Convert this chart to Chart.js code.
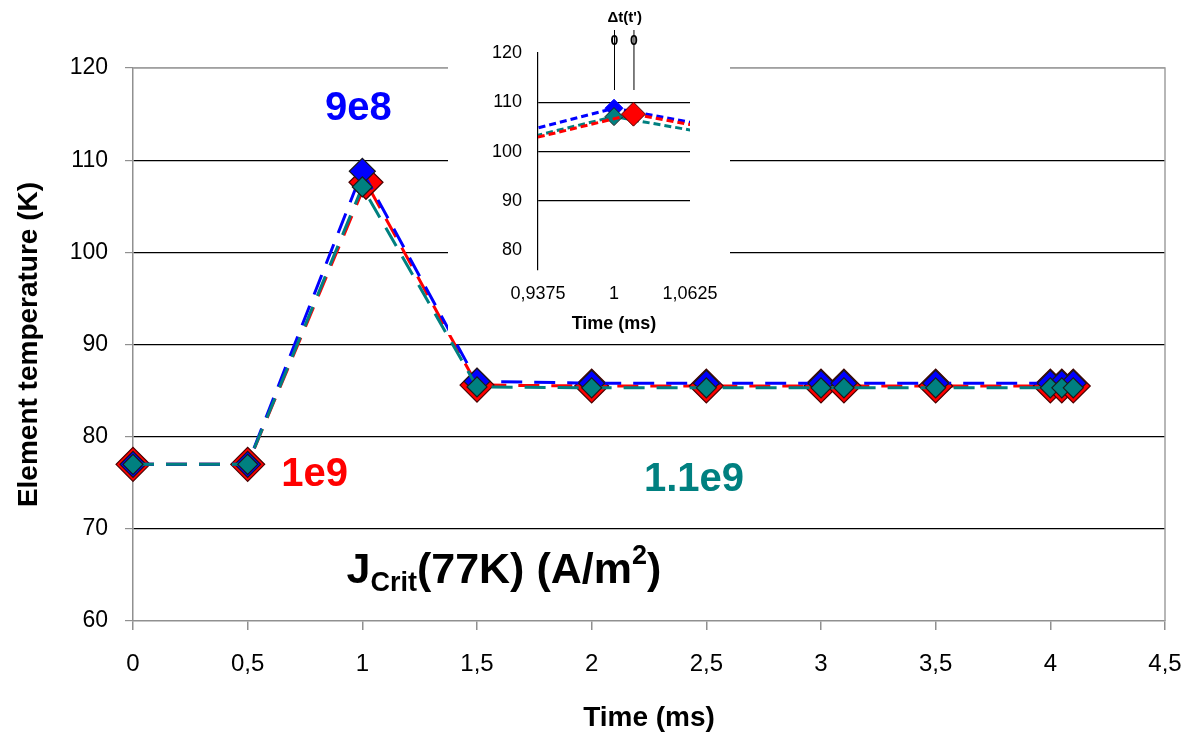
<!DOCTYPE html>
<html><head><meta charset="utf-8">
<script src="https://cdn.jsdelivr.net/npm/chart.js@4.4.1/dist/chart.umd.min.js"></script>
<style>
html,body{margin:0;padding:0;background:#fff;}
#wrap{position:relative;width:1197px;height:740px;overflow:hidden;}
#main{position:absolute;left:0;top:0;}
#inset{position:absolute;left:448px;top:0;background:#fff;}
</style></head><body>
<div id="wrap"><canvas id="main" width="1197" height="740"></canvas><canvas id="inset" width="282" height="335"></canvas></div>
<script>
// ---- data ----
const seriesNames = ['9e8', '1e9', '1.1e9'];
const timeBlue = [0, 0.5, 1, 1.5, 2, 2.5, 3, 3.1, 3.5, 4, 4.05, 4.1];
const timeRed  = [0, 0.5, 1.016, 1.5, 2, 2.5, 3, 3.1, 3.5, 4, 4.05, 4.1];
const timeTeal = [0, 0.5, 1, 1.5, 2, 2.5, 3, 3.1, 3.5, 4, 4.05, 4.1];
const tempBlue = [77, 77, 108.8, 86.0, 85.8, 85.8, 85.8, 85.8, 85.8, 85.8, 85.8, 85.8];
const tempRed  = [77, 77, 107.6, 85.6, 85.5, 85.5, 85.5, 85.5, 85.5, 85.5, 85.5, 85.5];
const tempTeal = [77, 77, 107.1, 85.4, 85.3, 85.3, 85.3, 85.3, 85.3, 85.3, 85.3, 85.3];
const xTickValues = [0, 0.5, 1, 1.5, 2, 2.5, 3, 3.5, 4, 4.5];
const xTickLabels = ['0', '0,5', '1', '1,5', '2', '2,5', '3', '3,5', '4', '4,5'];
const yTickValues = [60, 70, 80, 90, 100, 110, 120];
const insetXTickValues = [0.9375, 1, 1.0625];
const insetXTickLabels = ['0,9375', '1', '1,0625'];
const insetYTickValues = [80, 90, 100, 110, 120];
const insetGridValues = [90, 100, 110];

// ---- styles ----
const FONT = "'Liberation Sans', Arial, sans-serif";
const BLUE = '#0000ff', RED = '#ff0000', TEAL = '#008080';
const GRAY = '#909090';

function pts(times, temps) { return times.map((t, i) => ({x: t, y: temps[i]})); }

function mainDS(name, times, temps, color, order, radius, border) {
  return {
    label: name, data: pts(times, temps), order: order,
    showLine: true, borderColor: color, borderWidth: 3,
    borderDash: [21, 12], borderDashOffset: 0,
    pointStyle: 'rectRot', pointRadius: radius, pointBackgroundColor: color,
    pointBorderColor: border, pointBorderWidth: 1.2, clip: false, tension: 0
  };
}
function insetDS(name, times, temps, color, order, radius, dashOffset, border) {
  return {
    label: name, data: pts(times, temps), order: order,
    showLine: true, borderColor: color, borderWidth: 3,
    borderDash: [7, 4], borderDashOffset: dashOffset,
    pointStyle: 'rectRot', pointRadius: radius, pointBackgroundColor: color,
    pointBorderColor: border, pointBorderWidth: 1, tension: 0
  };
}

const labelFromList = (vals, labs) => (v) => { const i = vals.findIndex(a => Math.abs(a - v) < 1e-9); return i >= 0 ? labs[i] : ''; };

// annotation text (positions in data units)
const notes = [
  {text: seriesNames[0], color: BLUE, x: 0.983, y: 115.6},
  {text: seriesNames[1], color: RED,  x: 0.792, y: 75.8},
  {text: seriesNames[2], color: TEAL, x: 2.446, y: 75.3}
];

const mainPlugin = {
  id: 'mainDeco',
  beforeDatasetsDraw(chart) {
    const {ctx, chartArea: a} = chart;
    ctx.save();
    ctx.strokeStyle = '#a0a0a0'; ctx.lineWidth = 1.5;
    ctx.beginPath();
    ctx.moveTo(a.left, a.top); ctx.lineTo(a.right, a.top); ctx.lineTo(a.right, a.bottom);
    ctx.stroke();
    ctx.restore();
  },
  afterDatasetsDraw(chart) {
    const {ctx, scales: {x, y}} = chart;
    ctx.save();
    ctx.textAlign = 'center'; ctx.textBaseline = 'middle';
    ctx.font = 'bold 40px ' + FONT;
    notes.forEach(n => { ctx.fillStyle = n.color; ctx.fillText(n.text, x.getPixelForValue(n.x), y.getPixelForValue(n.y)); });
    // J_Crit(77K) (A/m^2)
    let px = x.getPixelForValue(0.931), base = y.getPixelForValue(64.1);
    ctx.textAlign = 'left'; ctx.textBaseline = 'alphabetic'; ctx.fillStyle = '#000';
    const parts = [
      {t: 'J', f: 43, dy: 0}, {t: 'Crit', f: 27, dy: 8}, {t: '(77K) (A/m', f: 43, dy: 0},
      {t: '2', f: 27, dy: -19}, {t: ')', f: 43, dy: 0}
    ];
    parts.forEach(p => {
      ctx.font = 'bold ' + p.f + 'px ' + FONT;
      ctx.fillText(p.t, px, base + p.dy);
      px += ctx.measureText(p.t).width;
    });
    ctx.restore();
  }
};

new Chart(document.getElementById('main'), {
  type: 'scatter',
  data: {datasets: [
    mainDS(seriesNames[2], timeTeal, tempTeal, TEAL, 0, 10, '#1a1a1a'),
    mainDS(seriesNames[0], timeBlue, tempBlue, BLUE, 1, 13, '#1a1a1a'),
    mainDS(seriesNames[1], timeRed, tempRed, RED, 2, 17, '#4a0000')
  ]},
  options: {
    responsive: false, animation: false, events: [],
    layout: {padding: {top: 68, right: 32, left: 0, bottom: 0}},
    plugins: {legend: {display: false}, tooltip: {enabled: false}},
    scales: {
      x: {
        type: 'linear', min: 0, max: 4.5,
        afterBuildTicks: s => { s.ticks = xTickValues.map(v => ({value: v})); },
        afterFit: s => { s.height = 119; s.paddingLeft = 0; s.paddingRight = 0; },
        ticks: {callback: labelFromList(xTickValues, xTickLabels), font: {family: FONT, size: 24}, color: '#000', padding: 20, maxRotation: 0, autoSkip: false},
        grid: {drawOnChartArea: false, drawTicks: true, tickLength: 9, color: GRAY, lineWidth: 1.5},
        border: {display: true, color: GRAY, width: 1.5},
        title: {display: true, text: 'Time (ms)', font: {family: FONT, size: 28, weight: 'bold'}, color: '#000', padding: {top: 0, bottom: 5}}
      },
      y: {
        type: 'linear', min: 60, max: 120,
        afterBuildTicks: s => { s.ticks = yTickValues.map(v => ({value: v})); },
        afterFit: s => { s.width = 133; s.paddingTop = 0; s.paddingBottom = 0; },
        ticks: {font: {family: FONT, size: 23}, color: '#000', padding: 17, callback: v => String(v)},
        grid: {color: c => (c.tick.value === 60 ? 'rgba(0,0,0,0)' : (c.tick.value === 120 ? '#a0a0a0' : '#000')), tickColor: GRAY, tickLength: 8, lineWidth: 1.2},
        border: {display: true, color: GRAY, width: 1.5},
        title: {display: true, text: 'Element temperature (K)', font: {family: FONT, size: 28, weight: 'bold'}, color: '#000', padding: {top: 12, bottom: 0}}
      }
    }
  },
  plugins: [mainPlugin]
});

// ---- inset ----
const peakTimes = [timeBlue[tempBlue.indexOf(Math.max(...tempBlue))], timeRed[tempRed.indexOf(Math.max(...tempRed))]];

const insetPlugin = {
  id: 'insetDeco',
  afterDraw(chart) {
    const {ctx, scales: {x}} = chart;
    ctx.save();
    const xs = peakTimes.map(t => x.getPixelForValue(t));
    ctx.strokeStyle = '#000'; ctx.lineWidth = 1;
    xs.forEach(px => { ctx.beginPath(); ctx.moveTo(px + 0.5, 30); ctx.lineTo(px + 0.5, 90); ctx.stroke(); });
    ctx.fillStyle = '#000'; ctx.textAlign = 'center'; ctx.textBaseline = 'middle';
    ctx.font = 'bold 14px ' + FONT;
    xs.forEach(px => ctx.fillText('0', px + 0.5, 41));
    ctx.font = 'bold 15px ' + FONT;
    ctx.fillText("\u0394t(t')", (xs[0] + xs[1]) / 2 + 1, 18);
    ctx.restore();
  }
};

new Chart(document.getElementById('inset'), {
  type: 'scatter',
  data: {datasets: [
    insetDS(seriesNames[1], timeRed, tempRed, RED, 0, 12, 3, '#4a0000'),
    insetDS(seriesNames[2], timeTeal, tempTeal, TEAL, 1, 9, 5, '#1a1a1a'),
    insetDS(seriesNames[0], timeBlue, tempBlue, BLUE, 2, 9, 0, BLUE)
  ]},
  options: {
    responsive: false, animation: false, events: [],
    layout: {padding: {top: 53, right: 40, left: 0, bottom: 0}},
    plugins: {legend: {display: false}, tooltip: {enabled: false}},
    scales: {
      x: {
        type: 'linear', min: 0.9375, max: 1.0625,
        afterBuildTicks: s => { s.ticks = insetXTickValues.map(v => ({value: v})); },
        afterFit: s => { s.height = 65; s.paddingLeft = 0; s.paddingRight = 0; },
        ticks: {callback: labelFromList(insetXTickValues, insetXTickLabels), font: {family: FONT, size: 18}, color: '#000', padding: 13, maxRotation: 0, autoSkip: false},
        grid: {display: false, drawTicks: false},
        border: {display: false},
        title: {display: true, text: 'Time (ms)', font: {family: FONT, size: 18, weight: 'bold'}, color: '#000', padding: {top: 0, bottom: 0}}
      },
      y: {
        type: 'linear', min: 76, max: 120,
        afterBuildTicks: s => { s.ticks = insetYTickValues.map(v => ({value: v})); },
        afterFit: s => { s.width = 90; s.paddingTop = 0; s.paddingBottom = 0; },
        ticks: {font: {family: FONT, size: 18}, color: '#000', padding: 16, callback: v => String(v)},
        grid: {drawTicks: false, color: c => (insetGridValues.includes(c.tick.value) ? '#000' : 'rgba(0,0,0,0)'), lineWidth: 1.2},
        border: {display: true, color: '#000', width: 1.2}
      }
    }
  },
  plugins: [insetPlugin]
});
</script>
</body></html>
